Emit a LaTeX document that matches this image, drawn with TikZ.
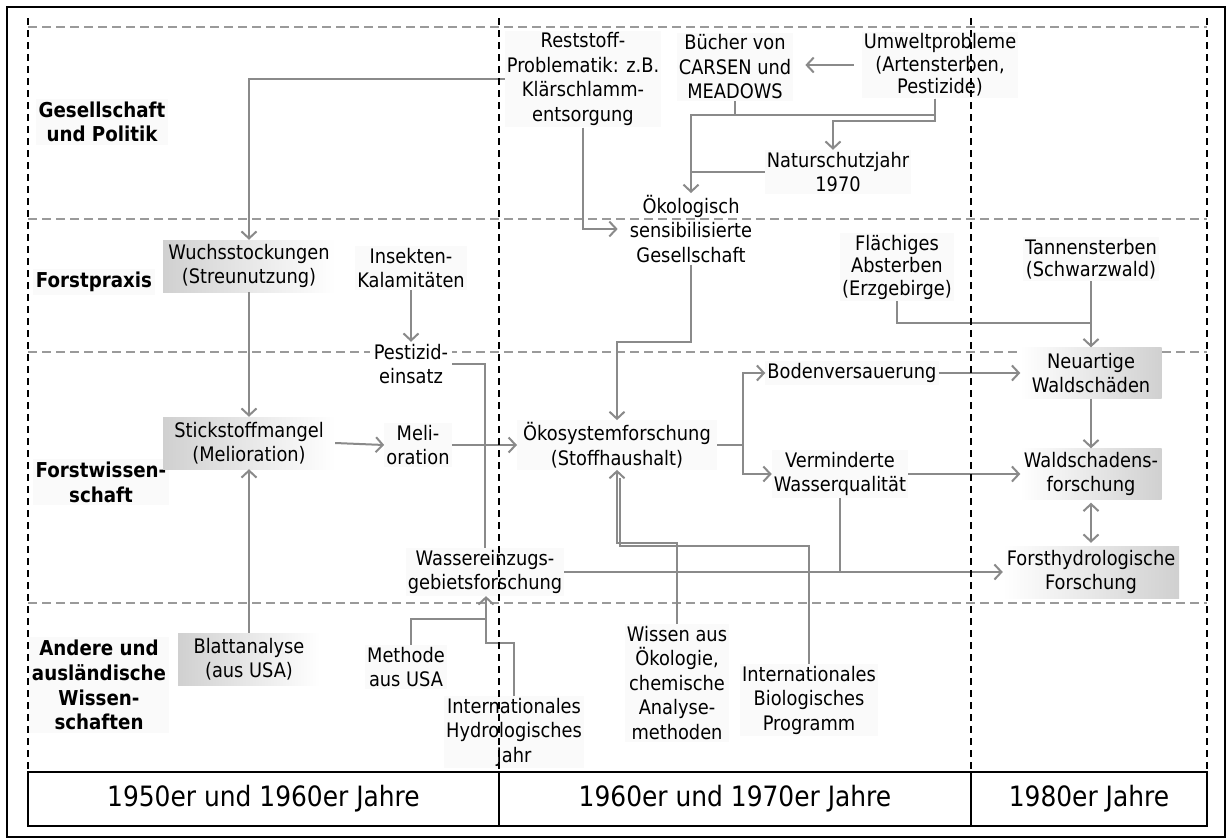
\documentclass[tikz,border=0pt]{standalone}
\usepackage{fontspec}
\setmainfont{DejaVu Sans}[FakeStretch=0.89]
\usetikzlibrary{arrows.meta}
\definecolor{conn}{HTML}{8A8A8A}
\definecolor{bandline}{HTML}{9A9A9A}
\definecolor{shadegray}{HTML}{D0D0D0}
\newcommand\txtfont{\fontsize{20}{24.5}\selectfont}
\newcommand\tightfont{\fontsize{20}{22.5}\selectfont}
\newcommand\lblfont{\fontsize{20.5}{24.7}\selectfont\bfseries}
\newcommand\yearfont{\fontsize{28}{30}\selectfont}
\begin{document}
\begin{tikzpicture}[x=1pt,y=-1pt,
  plain/.style={align=center,font=\txtfont,inner sep=2pt},
  txt/.style={plain,fill=black!3,fill opacity=0.5,text opacity=1},
  lbl/.style={align=center,font=\lblfont,inner sep=3pt,fill=black!3,fill opacity=0.5,text opacity=1},
  shadeL/.style={plain,left color=shadegray,right color=white,minimum height=52pt},
  shadeR/.style={plain,left color=white,right color=shadegray,minimum height=51pt},
  ln/.style={draw=conn,line width=2pt},
  arr/.style={ln,-{Straight Barb[length=7pt,width=15pt]}},
  darr/.style={ln,{Straight Barb[length=7pt,width=15pt]}-{Straight Barb[length=7pt,width=15pt]}},
  hdash/.style={draw=bandline,line width=2pt,dash pattern=on 9pt off 5pt},
  vdash/.style={draw=black,line width=2pt,dash pattern=on 7pt off 5pt},
  yearcell/.style={font=\yearfont,inner sep=0pt}]

% page and frame
\fill[white] (0,0) rectangle (1229,839);
\useasboundingbox (0,0) rectangle (1229,839);
\draw[line width=2pt] (7,7) rectangle (1225,837);

% horizontal band separators
\foreach \y in {27,219,352,603} \draw[hdash] (28,\y) -- (1207,\y);

% row labels
\node[lbl] (gp) at (102,122) {Gesellschaft\\und Politik};
\node[lbl] (fp) at (94,282) {Forstpraxis};
\node[lbl] (fw) at (101,482) {Forstwissen-\\schaft};
\node[lbl] (aw) at (99,685) {Andere und\\ausländische\\Wissen-\\schaften};

% 1950s / 1960s
\node[shadeL,minimum width=172pt] (wuchs) at (249,266) {Wuchsstockungen\\(Streunutzung)};
\node[shadeL,minimum width=172pt] (stick) at (249,443) {Stickstoffmangel\\(Melioration)};
\node[shadeL,minimum width=142pt] (blatt) at (249,659) {Blattanalyse\\(aus USA)};
\node[txt] (insekt) at (411,268) {Insekten-\\Kalamitäten};
\node[plain,fill=white,inner xsep=4pt] (pest) at (411,364) {Pestizid-\\einsatz};
\node[txt] (meli) at (418,445) {Meli-\\oration};
\node[txt] (wasser) at (485,572) {Wassereinzugs-\\gebietsforschung};
\node[txt] (methode) at (406,667) {Methode\\aus USA};
\node[txt] (ihj) at (514,732) {Internationales\\Hydrologisches\\Jahr};

% 1960s / 1970s
\node[txt] (rest) at (583,79) {Reststoff-\\Problematik: z.B.\\Klärschlamm-\\entsorgung};
\node[txt] (buecher) at (735,67) {Bücher von\\CARSEN und\\MEADOWS};
\node[txt,font=\tightfont] (umwelt) at (940,65) {Umweltprobleme\\(Artensterben,\\Pestizide)};
\node[txt] (natur) at (838,172) {Naturschutzjahr\\1970};
\node[plain,inner xsep=12pt] (gesell) at (691,229) {Ökologisch\\sensibilisierte\\Gesellschaft};
\node[txt,font=\tightfont] (flaech) at (897,267) {Flächiges\\Absterben\\(Erzgebirge)};
\node[txt,inner xsep=6pt] (oeko) at (617,445) {Ökosystemforschung\\(Stoffhaushalt)};
\node[txt] (boden) at (852,373) {Bodenversauerung};
\node[txt] (vermind) at (840,474) {Verminderte\\Wasserqualität};
\node[txt] (wissen) at (677,683) {Wissen aus\\Ökologie,\\chemische\\Analyse-\\methoden};
\node[txt] (ibp) at (809,700) {Internationales\\Biologisches\\Programm};

% 1980s
\node[txt,font=\tightfont] (tannen) at (1091,259) {Tannensterben\\(Schwarzwald)};
\node[shadeR,minimum width=141pt] (neu) at (1091,373) {Neuartige\\Waldschäden};
\node[shadeR,minimum width=141pt] (wsf) at (1091,474) {Waldschadens-\\forschung};
\node[shadeR,minimum width=176pt,minimum height=52pt] (fhf) at (1091,572) {Forsthydrologische\\Forschung};

% bend points
\coordinate (jB) at (691,115);
\coordinate (jC) at (833,121);
\coordinate (jD) at (691,342);
\coordinate (jE) at (743,445);
\coordinate (jF) at (1091,323);
\coordinate (jG) at (617,543);
\coordinate (jH) at (619.5,545.5);
\coordinate (jI) at (486,619);
\coordinate (jJ) at (486,643);

% connectors
\draw[arr] (rest.west) -| (wuchs.north);
\draw[arr] (rest.south) |- (gesell.west);
\draw[arr,shorten <=8pt,shorten >=12pt] (umwelt.west) -- (umwelt.west -| buecher.east);
\draw[ln] (buecher.south) |- (jB);
\draw[arr] ([xshift=-5pt]umwelt.south) |- (jB) -- (gesell.north);
\draw[arr] ([xshift=-5pt]umwelt.south) |- (jC) -- (jC |- natur.north);
\draw[ln] (natur.west) -- (natur.west -| gesell.north);
\draw[arr] (gesell.south) -- (jD) -| (oeko.north);
\draw[arr] (insekt.south) -- (pest.north);
\draw[ln] (pest.east) -| (wasser.north);
\draw[arr] (wuchs.south) -- (stick.north);
\draw[arr] (blatt.north) -- (stick.south);
\draw[arr] (stick.east) -- (meli.west);
\draw[arr] (meli.east) -- (oeko.west);
\draw[ln] (oeko.east) -- (jE);
\draw[arr] (jE) |- (boden.west);
\draw[arr] (jE) |- (vermind.west);
\draw[arr] (boden.east) -- (boden.east -| neu.west);
\draw[arr] (vermind.east) -- (vermind.east -| wsf.west);
\draw[arr] (neu.south) -- (wsf.north);
\draw[darr,shorten <=3pt,shorten >=3pt] (wsf.south) -- (fhf.north);
\draw[ln] (flaech.south) |- (jF);
\draw[arr] (tannen.south) -- (neu.north);
\draw[arr] (wasser.east) -- (wasser.east -| fhf.west);
\draw[ln] (vermind.south) -- (vermind.south |- wasser.east);
\draw[arr] (wissen.north) |- (jG) -- (oeko.south);
\draw[ln,shorten >=8pt] (ibp.north) |- (jH) -- (jH |- oeko.south);
\draw[arr] ([xshift=5pt]methode.north) |- (jI) -- (jI |- wasser.south);
\draw[ln] (ihj.north) |- (jJ) -- (jI);

% period columns
\foreach \x in {28,499,971,1207} \draw[vdash] (\x,18) -- (\x,772);

% period table
\draw[line width=1.5pt] (28,772) rectangle (1207,826);
\draw[line width=1.5pt] (499,772) -- (499,826);
\draw[line width=1.5pt] (971,772) -- (971,826);
\node[yearcell] (p1) at (263.5,799) {1950er und 1960er Jahre};
\node[yearcell] (p2) at (735,799) {1960er und 1970er Jahre};
\node[yearcell] (p3) at (1089,799) {1980er Jahre};
\end{tikzpicture}
\end{document}
